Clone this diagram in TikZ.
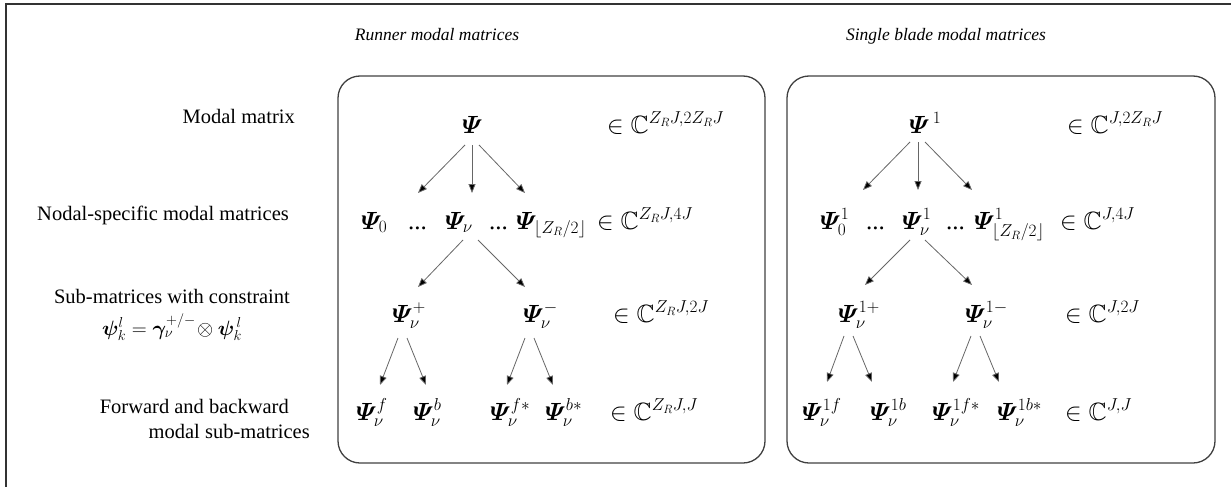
\documentclass[tikz,border=0pt]{standalone}
\usepackage{amsmath,amssymb,bm}
\usepackage{fontspec}
\setmainfont{Liberation Serif}
\usetikzlibrary{arrows.meta}
\newcommand{\Pb}{\bm{\varPsi}}
\tikzset{
  frameline/.style={draw=black!80, line width=1.2pt},
  panel/.style={draw=black!75, line width=1.3pt, rounded corners=22pt},
  arr/.style={draw=black!60, line width=0.8pt, -{Triangle[length=9pt,width=7pt,fill=black]}},
  lab/.style={font=\fontsize{20.5}{24}\selectfont, inner sep=0pt},
  ttl/.style={font=\fontsize{17.5}{20}\selectfont\itshape, inner sep=0pt, anchor=base},
  mth/.style={font=\fontsize{25}{29}\selectfont, inner sep=0pt, anchor=base west},
}
\begin{document}
\begin{tikzpicture}[x=1pt,y=-1pt]
\useasboundingbox (0,0) rectangle (1231,487);
\draw[frameline] (6,487) -- (6,4) -- (1231,4);

% titles
\node[ttl] (t1) at (437,41) {Runner modal matrices};
\node[ttl] (t2) at (946,41) {Single blade modal matrices};

% panels
\draw[panel] (338,76) rectangle (765,463);
\draw[panel] (787,76) rectangle (1215,463);

% left labels
\node[lab, anchor=base east] (l1) at (295,123) {Modal matrix};
\node[lab, anchor=base east] (l2) at (289,220) {Nodal-specific modal matrices};
\node[lab, anchor=base east] (l3) at (290,303) {Sub-matrices with constraint};
\node[lab, anchor=base] (l3b) at (172,335)
  {$\bm{\psi}_k^{l} = \bm{\gamma}_{\nu}^{+/-}\!\otimes \bm{\psi}_k^{\,l}$};
\node[lab, anchor=base east] (l4) at (289,413) {Forward and backward};
\node[lab, anchor=base east] (l4b) at (310,438) {modal sub-matrices};

% ---------- runner panel ----------
\node[mth] (r1) at (462,133) {$\Pb$};
\node[mth] (r1s) at (607,133) {$\in \mathbb{C}^{Z_R J,2Z_R J}$};

\node[mth] (r20) at (361,229) {$\Pb_{0}$};
\node[mth] (r2d1) at (408,229) {...};
\node[mth] (r2v) at (445,229) {$\Pb_{\nu}$};
\node[mth] (r2d2) at (489,229) {...};
\node[mth] (r2z) at (516,229) {$\Pb_{\lfloor Z_R/2\rfloor}$};
\node[mth] (r2s) at (597,229) {$\in \mathbb{C}^{Z_R J,4J}$};

\node[mth] (r3p) at (392,322) {$\Pb_{\nu}^{+}$};
\node[mth] (r3m) at (523,322) {$\Pb_{\nu}^{-}$};
\node[mth] (r3s) at (613,322) {$\in \mathbb{C}^{Z_R J,2J}$};

\node[mth] (r4f) at (356,420) {$\Pb_{\nu}^{f}$};
\node[mth] (r4b) at (413,420) {$\Pb_{\nu}^{b}$};
\node[mth] (r4fs) at (490,420) {$\Pb_{\nu}^{f*}$};
\node[mth] (r4bs) at (545,420) {$\Pb_{\nu}^{b*}$};
\node[mth] (r4s) at (610,420) {$\in \mathbb{C}^{Z_R J,J}$};

\coordinate (ra1) at (418,193); \coordinate (ra2) at (472,193); \coordinate (ra3) at (525,193);
\draw[arr] (465,145) -- (ra1);
\draw[arr] (472,145) -- (ra2);
\draw[arr] (479,145) -- (ra3);
\coordinate (rb1) at (418,287); \coordinate (rb2) at (525,287);
\draw[arr] (463,240) -- (rb1);
\draw[arr] (478,240) -- (rb2);
\coordinate (rc1) at (380,385); \coordinate (rc2) at (426,385);
\coordinate (rc3) at (507,385); \coordinate (rc4) at (553,385);
\draw[arr] (398,338) -- (rc1);
\draw[arr] (407,338) -- (rc2);
\draw[arr] (525,338) -- (rc3);
\draw[arr] (534,338) -- (rc4);

% ---------- blade panel ----------
\node[mth] (b1) at (909,133) {$\Pb^{\,1}$};
\node[mth] (b1s) at (1067,133) {$\in \mathbb{C}^{J,2Z_R J}$};

\node[mth] (b20) at (820,229) {$\Pb_{0}^{1}$};
\node[mth] (b2d1) at (866,229) {...};
\node[mth] (b2v) at (902,229) {$\Pb_{\nu}^{1}$};
\node[mth] (b2d2) at (946,229) {...};
\node[mth] (b2z) at (974,229) {$\Pb_{\lfloor Z_R/2\rfloor}^{1}$};
\node[mth] (b2s) at (1060,229) {$\in \mathbb{C}^{J,4J}$};

\node[mth] (b3p) at (838,322) {$\Pb_{\nu}^{1+}$};
\node[mth] (b3m) at (965,322) {$\Pb_{\nu}^{1-}$};
\node[mth] (b3s) at (1065,322) {$\in \mathbb{C}^{J,2J}$};

\node[mth] (b4f) at (802,420) {$\Pb_{\nu}^{1f}$};
\node[mth] (b4b) at (870,420) {$\Pb_{\nu}^{1b}$};
\node[mth] (b4fs) at (932,420) {$\Pb_{\nu}^{1f*}$};
\node[mth] (b4bs) at (997,420) {$\Pb_{\nu}^{1b*}$};
\node[mth] (b4s) at (1065,420) {$\in \mathbb{C}^{J,J}$};

\coordinate (ba1) at (863,190); \coordinate (ba2) at (918,190); \coordinate (ba3) at (972,190);
\draw[arr] (910,142) -- (ba1);
\draw[arr] (918,142) -- (ba2);
\draw[arr] (925,142) -- (ba3);
\coordinate (bb1) at (865,285); \coordinate (bb2) at (972,285);
\draw[arr] (910,240) -- (bb1);
\draw[arr] (925,240) -- (bb2);
\coordinate (bc1) at (827,382); \coordinate (bc2) at (872,382);
\coordinate (bc3) at (953,382); \coordinate (bc4) at (999,382);
\draw[arr] (844,336) -- (bc1);
\draw[arr] (853,336) -- (bc2);
\draw[arr] (971,336) -- (bc3);
\draw[arr] (980,336) -- (bc4);
\end{tikzpicture}
\end{document}
